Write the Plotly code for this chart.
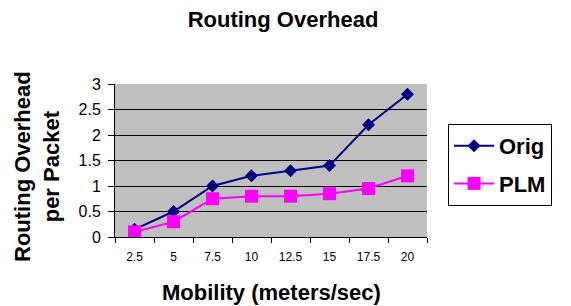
import plotly.graph_objects as go

categories = ["2.5", "5", "7.5", "10", "12.5", "15", "17.5", "20"]
orig = [0.15, 0.5, 1.0, 1.2, 1.3, 1.4, 2.2, 2.8]
plm = [0.1, 0.3, 0.75, 0.8, 0.8, 0.85, 0.95, 1.2]
y_ticks = [0, 0.5, 1, 1.5, 2, 2.5, 3]
y_tick_labels = ["0", "0.5", "1", "1.5", "2", "2.5", "3"]

W, H = 571, 306
L, R, T, B = 115, 144, 84, 69

fig = go.Figure()
fig.add_trace(go.Scatter(x=categories, y=orig, name="<b>Orig</b>", mode="lines+markers",
                         legendgroup="a",
                         line=dict(color="#000080", width=2),
                         marker=dict(symbol="diamond", size=10, color="#000080")))
fig.add_trace(go.Scatter(x=categories, y=plm, name="<b>PLM</b>", mode="lines+markers",
                         legendgroup="b",
                         line=dict(color="#FF00FF", width=2),
                         marker=dict(symbol="square", size=13, color="#FF00FF")))

fig.update_layout(
    width=W, height=H,
    margin=dict(l=L, r=R, t=T, b=B, autoexpand=False),
    paper_bgcolor="white", plot_bgcolor="#C0C0C0",
    font=dict(family="Arial, Liberation Sans", color="black"),
    title=dict(text="<b>Routing Overhead</b>", x=283 / W, xanchor="center",
               xref="container", yref="container",
               y=1 - 19 / H, yanchor="middle", font=dict(size=22)),
    xaxis=dict(type="category", tickson="boundaries", ticks="outside", ticklen=5,
               tickcolor="black", showline=True, linecolor="black", linewidth=1,
               showgrid=False, tickfont=dict(size=12), range=[-0.5, 7.5],
               ticklabelstandoff=9),
    yaxis=dict(range=[0, 3], tickvals=y_ticks, ticktext=y_tick_labels, ticks="outside",
               ticklen=6, tickcolor="black", showline=True, linecolor="black", linewidth=1,
               showgrid=True, gridcolor="black", gridwidth=1, tickfont=dict(size=16),
               zeroline=False, ticklabelstandoff=4),
    legend=dict(x=448 / W, xanchor="left", y=1 - 124 / H, yanchor="top",
                xref="container", yref="container",
                bordercolor="black", borderwidth=1, bgcolor="white",
                font=dict(size=22), itemwidth=40, tracegroupgap=6),
    showlegend=True,
)

fig.add_annotation(text="<b>Mobility (meters/sec)</b>", xref="paper", yref="paper",
                   x=0.5, y=-(292 - (H - B)) / (H - T - B), xanchor="center", yanchor="middle",
                   showarrow=False, font=dict(size=22))

fig.add_annotation(text="<b>Routing Overhead<br>per Packet</b>", textangle=-90,
                   xref="paper", yref="paper", x=(37 - L) / (W - L - R),
                   y=1 - (167 - T) / (H - T - B),
                   xanchor="center", yanchor="middle", showarrow=False,
                   font=dict(size=22))

fig.write_html("out.html", config={"displayModeBar": False},
               post_script="document.body.style.margin='0px';")
